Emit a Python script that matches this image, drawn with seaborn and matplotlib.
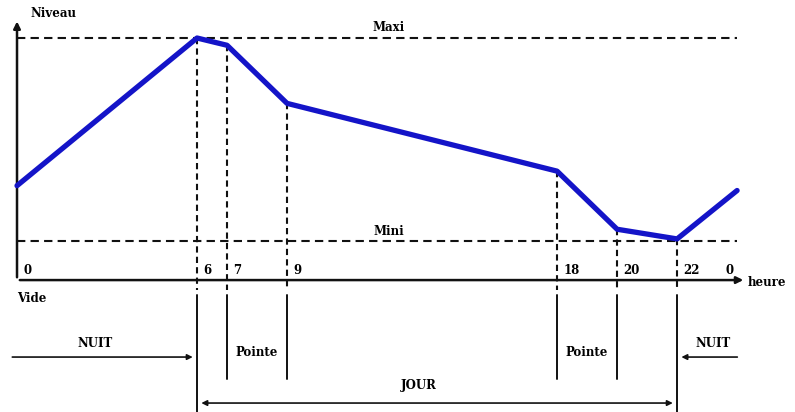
import numpy as np
import pandas as pd
import matplotlib
matplotlib.use("Agg")
import matplotlib.pyplot as plt
import seaborn as sns

# Niveau du réservoir au cours de la journée (Maxi = 100)
heures = [0, 6, 7, 9, 18, 20, 22, 24]
niveau = [39, 100, 97, 73, 45, 21, 17, 37]
niveau_maxi = 100
niveau_mini = 16

graduations = [0, 6, 7, 9, 18, 20, 22, 24]
etiquettes = ["0", "6", "7", "9", "18", "20", "22", "0"]
pointes = [(7, 9), (18, 20)]
debut_jour = 6
fin_jour = 22

sns.set_style("white")
plt.rcParams['font.family'] = ['DejaVu Serif']

df = pd.DataFrame({"heure": heures, "niveau": niveau})

fig = plt.figure(figsize=(7.95, 4.12), dpi=100)
ax = fig.add_axes([0, 0, 1, 1])
ax.set_xlim(-0.567, 25.93)
ax.set_ylim(-54.5, 115.7)
ax.axis("off")

font = dict(fontsize=8.5, fontweight="bold", color="black")
black = "#111111"

# courbe de niveau
sns.lineplot(data=df, x="heure", y="niveau", ax=ax, color="#1414c8", linewidth=3.8,
             legend=False, zorder=5)

# axes avec flèches
ax.annotate("", xy=(0, 108), xytext=(0, 0),
            arrowprops=dict(arrowstyle="-|>", color=black, lw=1.8, mutation_scale=10))
ax.annotate("", xy=(24.3, 0), xytext=(0, 0),
            arrowprops=dict(arrowstyle="-|>", color=black, lw=1.8, mutation_scale=10))
ax.text(0.45, 110, "Niveau", ha="left", va="center", **font)
ax.text(0, -7.5, "Vide", ha="left", va="center", **font)
ax.text(24.35, -0.8, "heure", ha="left", va="center", **font)

# niveaux maxi / mini
ax.plot([0, 24], [niveau_maxi, niveau_maxi], ls=(0, (4, 2.5)), color=black, lw=1.5)
ax.plot([0, 24], [niveau_mini, niveau_mini], ls=(0, (4, 2.5)), color=black, lw=1.5)
ax.text(12.4, niveau_maxi + 1.5, "Maxi", ha="center", va="bottom", **font)
ax.text(12.4, niveau_mini + 1.5, "Mini", ha="center", va="bottom", **font)

# repères verticaux
for h, n in zip(heures, niveau):
    if h in (0, 24):
        continue
    ax.plot([h, h], [n, -4], ls=(0, (3, 2)), color=black, lw=1.5, zorder=3)

for h, lab in zip(graduations, etiquettes):
    if h == 24:
        ax.text(h - 0.1, 4, lab, ha="right", va="center", **font)
    else:
        ax.text(h + 0.2, 4, lab, ha="left", va="center", **font)

# périodes jour / nuit / pointe
for h in (debut_jour, fin_jour):
    ax.plot([h, h], [-6, -54.5], color=black, lw=1.4)
for a, b in pointes:
    ax.plot([a, a], [-6, -41], color=black, lw=1.4)
    ax.plot([b, b], [-6, -41], color=black, lw=1.4)
    ax.text((a + b) / 2, -30, "Pointe", ha="center", va="center", **font)

ax.annotate("", xy=(debut_jour - 0.05, -31.8), xytext=(-0.25, -31.8),
            arrowprops=dict(arrowstyle="-|>", color=black, lw=1.2, mutation_scale=8))
ax.text(2.6, -26, "NUIT", ha="center", va="center", **font)
ax.annotate("", xy=(fin_jour + 0.05, -31.8), xytext=(24.1, -31.8),
            arrowprops=dict(arrowstyle="-|>", color=black, lw=1.2, mutation_scale=8))
ax.text(23.2, -26, "NUIT", ha="center", va="center", **font)

ax.annotate("", xy=(debut_jour + 0.05, -50.8), xytext=(fin_jour - 0.05, -50.8),
            arrowprops=dict(arrowstyle="<|-|>", color=black, lw=1.2, mutation_scale=8))
ax.text(13.4, -43.5, "JOUR", ha="center", va="center", **font)

fig.savefig("out.png", dpi=100)
